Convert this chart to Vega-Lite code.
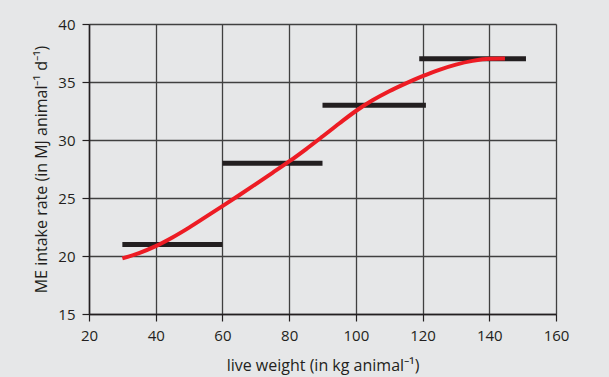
{
  "$schema": "https://vega.github.io/schema/vega-lite/v6.json",
  "width": 467,
  "height": 290,
  "autosize": "none",
  "padding": {"left": 89, "top": 24, "right": 53, "bottom": 63},
  "background": "#e6e7e8",
  "config": {
    "view": {"stroke": null},
    "font": "Open Sans",
    "axis": {
      "labelFont": "Open Sans",
      "titleFont": "Open Sans",
      "labelFontSize": 15,
      "titleFontSize": 16,
      "labelColor": "#231f20",
      "titleColor": "#231f20",
      "titleFontWeight": "normal",
      "domainColor": "#231f20",
      "domainWidth": 1.5,
      "tickColor": "#231f20",
      "tickWidth": 1.2,
      "tickSize": 7,
      "gridColor": "#404040",
      "gridWidth": 1.3,
      "gridOpacity": 1
    }
  },
  "datasets": {
    "segments": [
      {"x": 30, "x2": 60, "y": 21},
      {"x": 60, "x2": 90, "y": 28},
      {"x": 90, "x2": 121, "y": 33},
      {"x": 119, "x2": 151, "y": 37}
    ],
    "curve": [
      {"x": 30, "y": 19.8},
      {"x": 35, "y": 20.25},
      {"x": 40, "y": 20.85},
      {"x": 45, "y": 21.6},
      {"x": 50, "y": 22.45},
      {"x": 55, "y": 23.37},
      {"x": 60, "y": 24.3},
      {"x": 65, "y": 25.24},
      {"x": 70, "y": 26.2},
      {"x": 75, "y": 27.17},
      {"x": 80, "y": 28.15},
      {"x": 85, "y": 29.2},
      {"x": 90, "y": 30.3},
      {"x": 95, "y": 31.42},
      {"x": 100, "y": 32.5},
      {"x": 105, "y": 33.42},
      {"x": 110, "y": 34.2},
      {"x": 115, "y": 34.88},
      {"x": 120, "y": 35.5},
      {"x": 125, "y": 36.05},
      {"x": 130, "y": 36.5},
      {"x": 135, "y": 36.82},
      {"x": 140, "y": 37.0},
      {"x": 144.7, "y": 37.02}
    ]
  },
  "layer": [
    {
      "data": {"name": "segments"},
      "mark": {"type": "rule", "color": "#231f20", "strokeWidth": 5, "strokeCap": "butt"},
      "encoding": {
        "x": {
          "field": "x", "type": "quantitative",
          "scale": {"domain": [20, 160], "nice": false, "zero": false},
          "axis": {"values": [20, 40, 60, 80, 100, 120, 140, 160], "title": "live weight (in kg animal⁻¹)", "labelPadding": 7, "titlePadding": 14, "labelFlush": false}
        },
        "x2": {"field": "x2"},
        "y": {
          "field": "y", "type": "quantitative",
          "scale": {"domain": [15, 40], "nice": false, "zero": false},
          "axis": {"values": [15, 20, 25, 30, 35, 40], "title": "ME intake rate (in MJ animal⁻¹ d⁻¹)", "labelPadding": 7, "titlePadding": 8, "labelFlush": false}
        }
      }
    },
    {
      "data": {"name": "curve"},
      "mark": {"type": "line", "color": "#ed1c24", "strokeWidth": 4, "interpolate": "monotone", "strokeCap": "butt"},
      "encoding": {
        "x": {"field": "x", "type": "quantitative"},
        "y": {"field": "y", "type": "quantitative"}
      }
    }
  ]
}
